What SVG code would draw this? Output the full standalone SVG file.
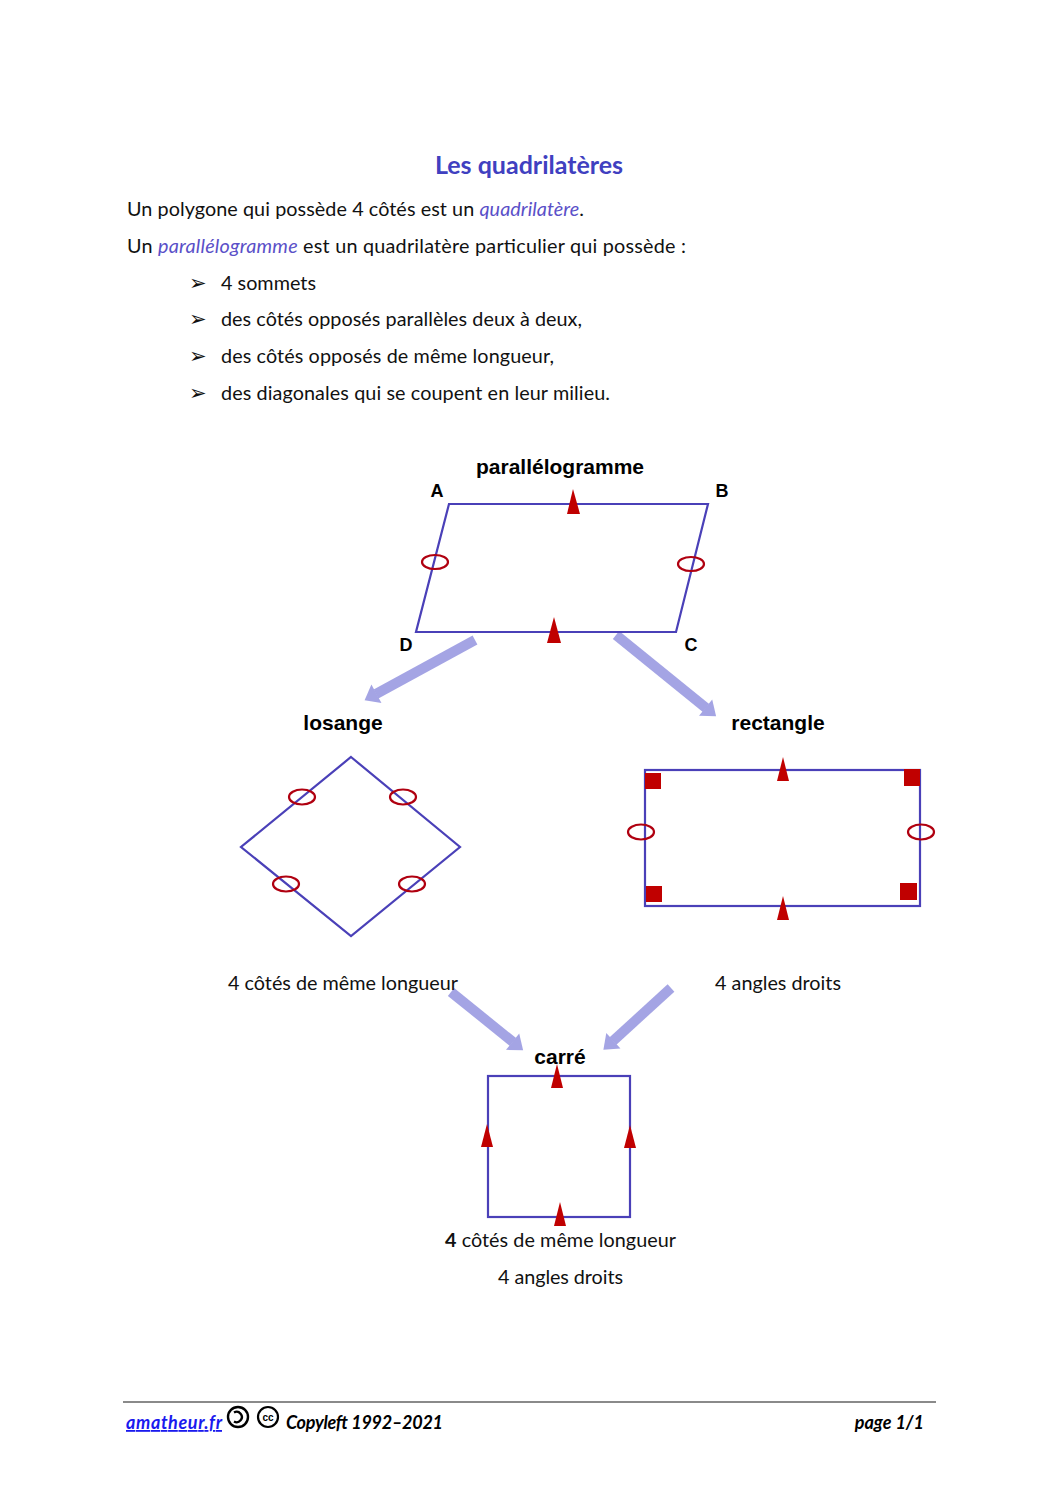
<svg xmlns="http://www.w3.org/2000/svg" width="1058" height="1497" viewBox="0 0 1058 1497">
<style>
.body{font-family:Lato,"Open Sans","Noto Sans",sans-serif;font-size:19.8px;fill:#111}
.it{font-style:italic;fill:#5a50c8}
.title{font-family:Lato,"Open Sans",sans-serif;font-size:25px;font-weight:bold;fill:#4040c0}
.lbl{font-family:"Liberation Sans",Arial,sans-serif;font-size:21px;font-weight:bold;fill:#000}
.pt{font-family:"Liberation Sans",Arial,sans-serif;font-size:18px;font-weight:bold;fill:#000}
.shape{fill:none;stroke:#4a40b8;stroke-width:2.2}
.tri{fill:#c00000}
.ring{fill:none;stroke:#b00010;stroke-width:2.2}
.conn{fill:none;stroke:#a4a4e4;stroke-width:10;marker-end:url(#ah)}
.bul{font-family:"DejaVu Sans",sans-serif;font-size:21px;fill:#111}
.foot{font-family:Lato,"Open Sans",sans-serif;font-size:18px;font-style:italic;font-weight:bold;fill:#000}
</style>
<defs>
<marker id="ah" markerUnits="strokeWidth" markerWidth="1.5" markerHeight="2.2" refX="0.05" refY="1.05" orient="auto" overflow="visible">
<path d="M0,0 L1.35,1.05 L0,2.1 z" fill="#a4a4e4"/>
</marker>
</defs>
<rect width="1058" height="1497" fill="#fff"/>

<g id="text-block">
<text class="title" x="529" y="174" text-anchor="middle">Les quadrilatères</text>
<text class="body" x="127" y="216" textLength="457" lengthAdjust="spacing">Un polygone qui possède 4 côtés est un <tspan class="it">quadrilatère</tspan>.</text>
<text class="body" x="127" y="253" textLength="559" lengthAdjust="spacing">Un <tspan class="it">parallélogramme</tspan> est un quadrilatère particulier qui possède :</text>
<text class="bul" x="189" y="290">➢</text>
<text class="body" x="221" y="290" textLength="95" lengthAdjust="spacing">4 sommets</text>
<text class="bul" x="189" y="326">➢</text>
<text class="body" x="221" y="326" textLength="361" lengthAdjust="spacing">des côtés opposés parallèles deux à deux,</text>
<text class="bul" x="189" y="363">➢</text>
<text class="body" x="221" y="363" textLength="333" lengthAdjust="spacing">des côtés opposés de même longueur,</text>
<text class="bul" x="189" y="400">➢</text>
<text class="body" x="221" y="400" textLength="389" lengthAdjust="spacing">des diagonales qui se coupent en leur milieu.</text>
</g>

<g id="connectors">
<line class="conn" x1="475" y1="640" x2="376" y2="694"/>
<line class="conn" x1="616" y1="635" x2="706" y2="708"/>
<line class="conn" x1="451" y1="992" x2="513" y2="1042"/>
<line class="conn" x1="671" y1="988" x2="613" y2="1041"/>
</g>

<g id="parallelogramme">
<text class="lbl" x="560" y="474" text-anchor="middle">parallélogramme</text>
<polygon class="shape" points="449,504 708,504 676,632 416,632"/>
<polygon class="tri" points="573,489 567,514 580,514"/>
<polygon class="tri" points="554,617 547,643 561,643"/>
<ellipse class="ring" cx="435" cy="562" rx="13" ry="7"/>
<ellipse class="ring" cx="691" cy="564" rx="13" ry="7"/>
<text class="pt" x="437" y="497" text-anchor="middle">A</text>
<text class="pt" x="722" y="497" text-anchor="middle">B</text>
<text class="pt" x="691" y="651" text-anchor="middle">C</text>
<text class="pt" x="406" y="651" text-anchor="middle">D</text>
</g>

<g id="losange">
<text class="lbl" x="343" y="730" text-anchor="middle">losange</text>
<polygon class="shape" points="351,757 460,847 351,936 241,847"/>
<ellipse class="ring" cx="302" cy="797" rx="13" ry="7.5"/>
<ellipse class="ring" cx="403" cy="797" rx="13" ry="7.5"/>
<ellipse class="ring" cx="286" cy="884" rx="13" ry="7.5"/>
<ellipse class="ring" cx="412" cy="884" rx="13" ry="7.5"/>
<text class="body" x="228" y="990" textLength="230" lengthAdjust="spacing">4 côtés de même longueur</text>
</g>

<g id="rectangle">
<text class="lbl" x="778" y="730" text-anchor="middle">rectangle</text>
<rect class="shape" x="645" y="770" width="275" height="136"/>
<rect class="tri" x="645" y="773" width="16" height="16"/>
<rect class="tri" x="904" y="769" width="16" height="17"/>
<rect class="tri" x="646" y="886" width="16" height="16"/>
<rect class="tri" x="900" y="883" width="17" height="17"/>
<polygon class="tri" points="783,757 777,781 789,781"/>
<polygon class="tri" points="783,896 777,920 789,920"/>
<ellipse class="ring" cx="641" cy="832" rx="13" ry="7.5"/>
<ellipse class="ring" cx="921" cy="832" rx="13" ry="7.5"/>
<text class="body" x="715" y="990" textLength="126" lengthAdjust="spacing">4 angles droits</text>
</g>

<g id="carre">
<text class="lbl" x="560" y="1064" text-anchor="middle">carré</text>
<rect class="shape" x="488" y="1076" width="142" height="141"/>
<polygon class="tri" points="557,1064 551,1088 563,1088"/>
<polygon class="tri" points="487,1124 481,1147 493,1147"/>
<polygon class="tri" points="630,1125 624,1148 636,1148"/>
<polygon class="tri" points="560,1202 554,1226 566,1226"/>
<text class="body" x="445" y="1247" textLength="231" lengthAdjust="spacing"><tspan font-weight="bold">4</tspan> côtés de même longueur</text>
<text class="body" x="498" y="1284" textLength="125" lengthAdjust="spacing">4 angles droits</text>
</g>

<g id="footer">
<line x1="123" y1="1402" x2="936" y2="1402" stroke="#8a8a8a" stroke-width="2"/>
<text class="foot" x="126" y="1429" style="fill:#1a1aee" text-decoration="underline" textLength="96" lengthAdjust="spacing">amatheur.fr</text>
<circle cx="238" cy="1417" r="10" fill="none" stroke="#000" stroke-width="2.4"/>
<path d="M234,1412.5 A5.2,5.2 0 1 1 234,1421.5" fill="none" stroke="#000" stroke-width="2.4"/>
<circle cx="268" cy="1417" r="10" fill="none" stroke="#000" stroke-width="2.2"/>
<text x="268" y="1421" text-anchor="middle" font-family="'Liberation Sans',sans-serif" font-size="10" font-weight="bold" fill="#000">cc</text>
<text class="foot" x="286" y="1429" textLength="157" lengthAdjust="spacing">Copyleft 1992–2021</text>
<text class="foot" x="924" y="1429" text-anchor="end">page 1/1</text>
</g>
</svg>
